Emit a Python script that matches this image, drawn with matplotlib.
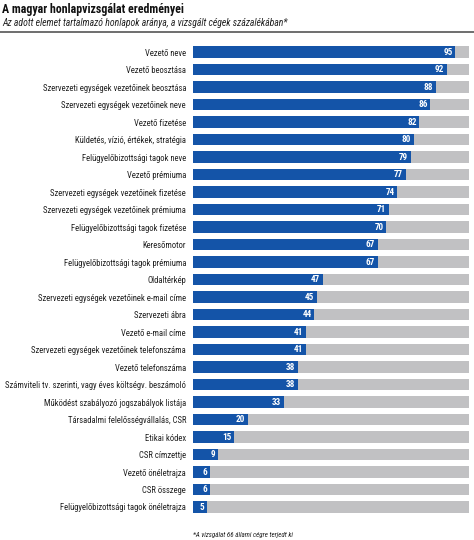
import matplotlib
matplotlib.use("Agg")
import matplotlib.pyplot as plt
from matplotlib.lines import Line2D

categories = [
    "Vezető neve",
    "Vezető beosztása",
    "Szervezeti egységek vezetőinek beosztása",
    "Szervezeti egységek vezetőinek neve",
    "Vezető fizetése",
    "Küldetés, vízió, értékek, stratégia",
    "Felügyelőbizottsági tagok neve",
    "Vezető prémiuma",
    "Szervezeti egységek vezetőinek fizetése",
    "Szervezeti egységek vezetőinek prémiuma",
    "Felügyelőbizottsági tagok fizetése",
    "Keresőmotor",
    "Felügyelőbizottsági tagok prémiuma",
    "Oldaltérkép",
    "Szervezeti egységek vezetőinek e-mail címe",
    "Szervezeti ábra",
    "Vezető e-mail címe",
    "Szervezeti egységek vezetőinek telefonszáma",
    "Vezető telefonszáma",
    "Számviteli tv. szerinti, vagy éves költségv. beszámoló",
    "Működést szabályozó jogszabályok listája",
    "Társadalmi felelősségvállalás, CSR",
    "Etikai kódex",
    "CSR címzettje",
    "Vezető önéletrajza",
    "CSR összege",
    "Felügyelőbizottsági tagok önéletrajza",
]
values = [95, 92, 88, 86, 82, 80, 79, 77, 74, 71, 70, 67, 67, 47, 45, 44, 41, 41,
          38, 38, 33, 20, 15, 9, 6, 6, 5]
total = [100] * len(values)

title = "A magyar honlapvizsgálat eredményei"
subtitle = "Az adott elemet tartalmazó honlapok aránya, a vizsgált cégek százalékában*"
footnote = "*A vizsgálat 66 állami cégre terjedt ki"

narrow = ["Roboto Condensed", "Liberation Sans", "DejaVu Sans"]
blue = "#1454a8"
grey = "#c1c1c3"

fig = plt.figure(figsize=(4.74, 5.40), dpi=100)
renderer = fig.canvas.get_renderer()


def fit_size(s, target_px, **kw):
    t = fig.text(0, 0, s, fontsize=10, family=narrow, **kw)
    w = t.get_window_extent(renderer).width
    t.remove()
    return 10 * target_px / w


label_fs = fit_size(categories[19], 181)
title_fs = fit_size(title, 182, fontweight="bold")
sub_fs = fit_size(subtitle, 287, style="italic")

ax = fig.add_axes([193 / 474, 1 - 515.75 / 540, 276 / 474, (515.75 - 43.25) / 540])

y = list(range(len(categories)))
ax.barh(y, total, height=0.66, color=grey, zorder=1)
ax.barh(y, values, height=0.66, color=blue, zorder=2)
for yi, v in zip(y, values):
    ax.text(v - 1.0, yi, str(v), ha="right", va="center", color="white",
            fontsize=label_fs * 1.05, fontweight="bold", family=narrow, zorder=3)

ax.set_xlim(0, 100)
ax.set_ylim(len(categories) - 0.5, -0.5)
ax.set_yticks(y)
ax.set_yticklabels(categories, family=narrow, fontsize=label_fs, color="#222222")
ax.tick_params(axis="y", length=0, pad=5)
ax.set_xticks([])
for s in ax.spines.values():
    s.set_visible(False)

fig.text(0.004, 1 - 10 / 540, title, ha="left", va="center", fontsize=title_fs,
         fontweight="bold", family=narrow, color="#111111")
fig.text(0.004, 1 - 23.5 / 540, subtitle, ha="left", va="center", fontsize=sub_fs,
         style="italic", family=narrow, color="#222222")
fig.add_artist(Line2D([0.0, 1.0], [1 - 32 / 540, 1 - 32 / 540], transform=fig.transFigure,
                      color="#555555", linewidth=1.2))
fig.text(193 / 474, 1 - 535 / 540, footnote, ha="left", va="center", fontsize=5,
         style="italic", family=narrow, color="#222222")

fig.savefig("out.png", dpi=100)
